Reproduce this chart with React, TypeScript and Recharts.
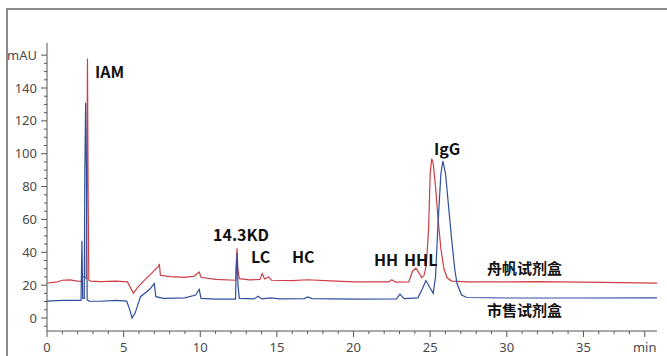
import React from 'react';
import { LineChart, Line, XAxis, YAxis } from 'recharts';

// 舟帆试剂盒 (red)
const redTimes = [0, 0.6, 1.0, 1.5, 2.0, 2.25, 2.3, 2.45, 2.55, 2.6, 2.64, 2.68, 2.73, 2.85, 3.5, 4.5, 5.25, 5.45, 5.64, 5.9, 6.3, 6.8, 7.28, 7.33, 7.4, 8.0, 9.0, 9.6, 9.93, 10.05, 11.0, 12.3, 12.36, 12.4, 12.45, 12.55, 13.2, 13.9, 14.04, 14.2, 14.45, 14.65, 16.0, 17.0, 18.5, 20.0, 22.3, 22.5, 22.75, 23.6, 23.85, 24.07, 24.3, 24.45, 24.6, 24.75, 24.9, 25.0, 25.1, 25.2, 25.35, 25.5, 25.7, 25.9, 26.1, 26.4, 27.5, 30, 32, 35, 39.8];
const redValues = [21.3, 21.8, 23, 23.2, 22.5, 22.3, 25, 25, 24, 80, 158, 80, 23, 22.5, 22.2, 22.4, 22, 18.5, 15, 18.5, 22.5, 27, 31.5, 33, 26, 25.2, 24.8, 25.5, 28, 24.8, 23.5, 23, 35, 42.5, 30, 24, 23.2, 23.5, 27, 23.8, 25, 23, 22.8, 23.3, 22.6, 22, 22, 23.3, 21.8, 22, 28.5, 30.4, 27, 24.5, 26, 32, 55, 88, 97, 94, 80, 62, 42, 30, 24.5, 22.5, 22, 22, 22.2, 21.8, 21.3];

// 市售试剂盒 (blue)
const blueTimes = [0, 1.0, 2.0, 2.22, 2.28, 2.33, 2.43, 2.47, 2.52, 2.57, 2.62, 2.75, 3.5, 4.5, 5.2, 5.4, 5.55, 5.75, 6.1, 6.7, 7.0, 7.1, 7.6, 9.0, 9.7, 9.93, 10.05, 11.0, 12.3, 12.35, 12.4, 12.46, 12.55, 13.5, 13.78, 14.0, 14.6, 15.2, 16.8, 17.0, 17.3, 20.0, 22.8, 23.03, 23.3, 24.2, 24.5, 24.72, 24.95, 25.2, 25.35, 25.5, 25.7, 25.83, 26.0, 26.2, 26.4, 26.6, 26.75, 27.05, 27.4, 30, 35, 39.8];
const blueValues = [10.3, 10.8, 10.8, 10.8, 47, 12, 12, 90, 131, 90, 11, 10.3, 10.2, 10.8, 10.3, 5, 0, 3, 13, 17.5, 21, 13, 12, 12.3, 14, 17.5, 12, 11.5, 11.5, 30, 39.5, 20, 12, 11.6, 13.2, 11.6, 12.2, 11.6, 11.8, 12.8, 11.8, 11.5, 11.6, 14.5, 11.8, 12.3, 18, 22.8, 19, 15, 25, 55, 88, 95.5, 88, 68, 48, 30, 21, 14, 12.5, 12.2, 12.2, 12.3];

const xTicks = Array.from({ length: 40 }, (_, i) => i);
const xMajor = [0, 5, 10, 15, 20, 25, 30, 35];
const xUnitTick = 39;
const yTicks = Array.from({ length: 34 }, (_, i) => -5 + i * 5);
const yMajor = [0, 20, 40, 60, 80, 100, 120, 140];
const yUnitTick = 160;

const peakLabels = [
  { text: 'IAM', x: 95, y: 78 },
  { text: '14.3KD', x: 213, y: 241 },
  { text: 'LC', x: 251, y: 263 },
  { text: 'HC', x: 292, y: 263 },
  { text: 'HH', x: 374, y: 266 },
  { text: 'HHL', x: 404, y: 266 },
  { text: 'IgG', x: 434, y: 155 },
];
const seriesLabels = [
  { text: '舟帆试剂盒', x: 487, y: 274 },
  { text: '市售试剂盒', x: 487, y: 316 },
];

const redData = redTimes.map((t, i) => ({ t, v: redValues[i] }));
const blueData = blueTimes.map((t, i) => ({ t, v: blueValues[i] }));

const AXIS = '#555';
const TICK_TEXT = '#4a4a4a';
const TICK_FONT = '"Noto Sans", sans-serif';

const XTick = (props: any) => {
  const { x, y, payload } = props;
  const v = payload.value;
  const major = xMajor.includes(v) || v === xUnitTick;
  const label = v === xUnitTick ? 'min' : xMajor.includes(v) ? String(v) : '';
  return (
    <g>
      <line x1={x} x2={x} y1={y} y2={y + (major ? 6 : 3)} stroke={AXIS} strokeWidth={1} />
      {label && (
        <text x={x} y={y + 21} textAnchor="middle" fontSize={13} fontFamily={TICK_FONT} fill={TICK_TEXT}>
          {label}
        </text>
      )}
    </g>
  );
};

const YTick = (props: any) => {
  const { x, y, payload } = props;
  const v = payload.value;
  const major = yMajor.includes(v) || v === yUnitTick;
  const label = v === yUnitTick ? 'mAU' : yMajor.includes(v) ? String(v) : '';
  return (
    <g>
      <line x1={x - (major ? 6 : 3)} x2={x} y1={y} y2={y} stroke={AXIS} strokeWidth={1} />
      {label && (
        <text x={x - 10} y={y + 4.5} textAnchor="end" fontSize={13} fontFamily={TICK_FONT} fill={TICK_TEXT}>
          {label}
        </text>
      )}
    </g>
  );
};

export default function App() {
  return (
    <div style={{ position: 'absolute', left: 0, top: 0, width: 667, height: 356, background: '#fff', overflow: 'hidden' }}>
      <div
        style={{
          position: 'absolute',
          left: 6,
          top: 8,
          width: 661,
          height: 348,
          borderTop: '2px solid #8c8c8c',
          borderLeft: '2px solid #8c8c8c',
        }}
      />
      <div style={{ position: 'absolute', left: 0, top: 0 }}>
        <LineChart width={667} height={356} margin={{ top: 43, right: 10, bottom: 0, left: 0 }}>
          <XAxis
            dataKey="t"
            type="number"
            domain={[0, 39.8]}
            allowDataOverflow
            ticks={xTicks}
            interval={0}
            tickLine={false}
            tickSize={0}
            tickMargin={0}
            height={25}
            axisLine={{ stroke: AXIS, strokeWidth: 1 }}
            tick={<XTick />}
          />
          <YAxis
            type="number"
            domain={[-7.9, 167.4]}
            allowDataOverflow
            ticks={yTicks}
            interval={0}
            tickLine={false}
            tickSize={0}
            tickMargin={0}
            width={47}
            axisLine={{ stroke: AXIS, strokeWidth: 1 }}
            tick={<YTick />}
          />
          <Line
            data={redData}
            dataKey="v"
            type="linear"
            stroke="#cf3e44"
            strokeWidth={1.2}
            dot={false}
            activeDot={false}
            isAnimationActive={false}
          />
          <Line
            data={blueData}
            dataKey="v"
            type="linear"
            stroke="#2f4f9e"
            strokeWidth={1.2}
            dot={false}
            activeDot={false}
            isAnimationActive={false}
          />
        </LineChart>
      </div>
      <svg width={667} height={356} style={{ position: 'absolute', left: 0, top: 0, pointerEvents: 'none' }}>
        {peakLabels.map((l) => (
          <text key={l.text} x={l.x} y={l.y} fontSize={16} fontWeight={700} fontFamily='"Noto Sans CJK SC", "Noto Sans", sans-serif' fill="#111">
            {l.text}
          </text>
        ))}
        {seriesLabels.map((l) => (
          <text key={l.text} x={l.x} y={l.y} fontSize={15} fontWeight={700} fontFamily='"Noto Sans CJK SC", sans-serif' fill="#111">
            {l.text}
          </text>
        ))}
      </svg>
    </div>
  );
}
